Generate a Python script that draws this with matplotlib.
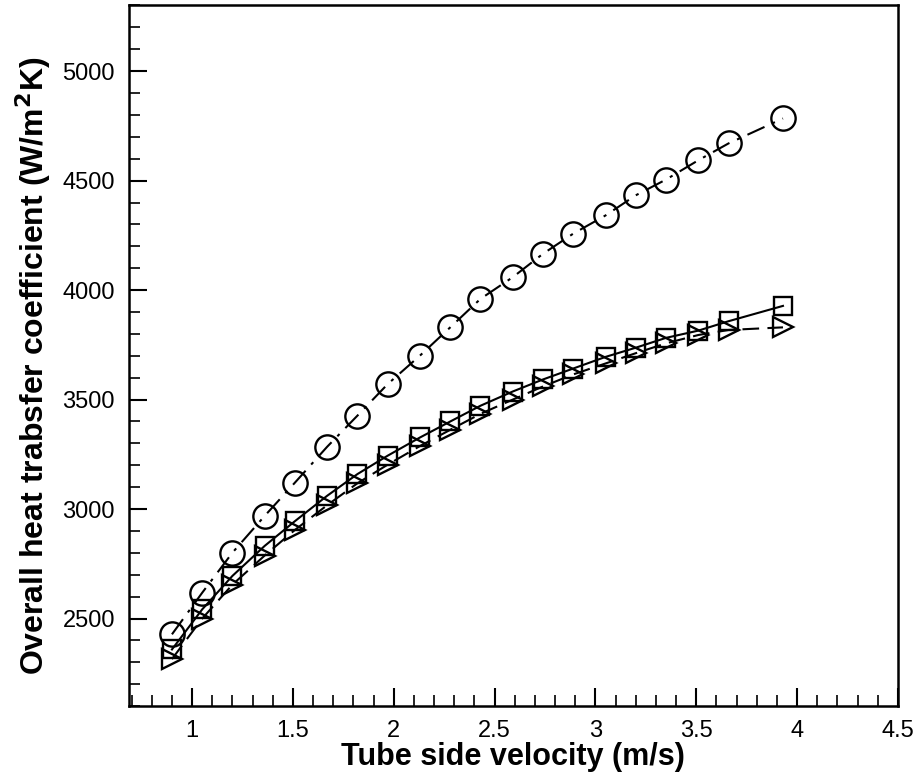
import numpy as np
import matplotlib.pyplot as plt
from matplotlib.ticker import MultipleLocator

plt.rcParams['font.family'] = ['Liberation Sans', 'DejaVu Sans']

# 数据
velocity = [0.90, 1.05, 1.20, 1.36, 1.51, 1.67, 1.82, 1.97, 2.13, 2.28,
            2.43, 2.59, 2.74, 2.89, 3.05, 3.20, 3.35, 3.51, 3.66, 3.93]
u_circle = [2428, 2618, 2801, 2969, 3121, 3285, 3427, 3571, 3701, 3830,
            3960, 4059, 4166, 4258, 4341, 4433, 4505, 4593, 4670, 4784]
u_square = [2359, 2542, 2695, 2832, 2945, 3061, 3160, 3244, 3327, 3400,
            3472, 3537, 3592, 3642, 3695, 3737, 3782, 3815, 3858, 3928]
u_triangle = [2315, 2500, 2655, 2788, 2905, 3018, 3118, 3203, 3288, 3362,
              3435, 3500, 3560, 3615, 3665, 3712, 3757, 3795, 3818, 3830]

fig = plt.figure(figsize=(9.2, 7.82), dpi=100)
ax = fig.add_axes([0.140, 0.097, 0.836, 0.896])

ax.plot(velocity, u_circle, color='black', linestyle=(0, (9, 4, 1.5, 4)), linewidth=1.5,
        marker='o', markersize=17.5, markerfacecolor='none', markeredgewidth=1.7)
ax.plot(velocity, u_square, color='black', linestyle='-', linewidth=1.5,
        marker='s', markersize=13, markerfacecolor='none', markeredgewidth=1.7)
ax.plot(velocity, u_triangle, color='black', linestyle=(0, (8, 4)), linewidth=1.5,
        marker='>', markersize=14, markerfacecolor='none', markeredgewidth=1.7)

ax.set_xlim(0.686, 4.5)
ax.set_ylim(2100, 5300)
ax.xaxis.set_major_locator(MultipleLocator(0.5))
ax.xaxis.set_minor_locator(MultipleLocator(0.1))
ax.yaxis.set_major_locator(MultipleLocator(500))
ax.yaxis.set_minor_locator(MultipleLocator(100))
ax.set_xticks([1, 1.5, 2, 2.5, 3, 3.5, 4, 4.5])
ax.set_xticklabels(['1', '1.5', '2', '2.5', '3', '3.5', '4', '4.5'])

ax.tick_params(which='major', direction='in', length=13, width=1.5,
               labelsize=17, pad=10, top=False, right=False)
ax.tick_params(which='minor', direction='in', length=8, width=1.2,
               top=False, right=False)
for s in ax.spines.values():
    s.set_linewidth(1.8)

ax.set_xlabel('Tube side velocity (m/s)', fontsize=22, fontweight='bold', labelpad=0)
ax.set_ylabel('Overall heat trabsfer coefficient (W/m$^\\mathbf{2}$K)',
              fontsize=23, fontweight='bold')
ax.yaxis.set_label_coords(-0.098, 0.485)

fig.savefig('out.png', dpi=100)
